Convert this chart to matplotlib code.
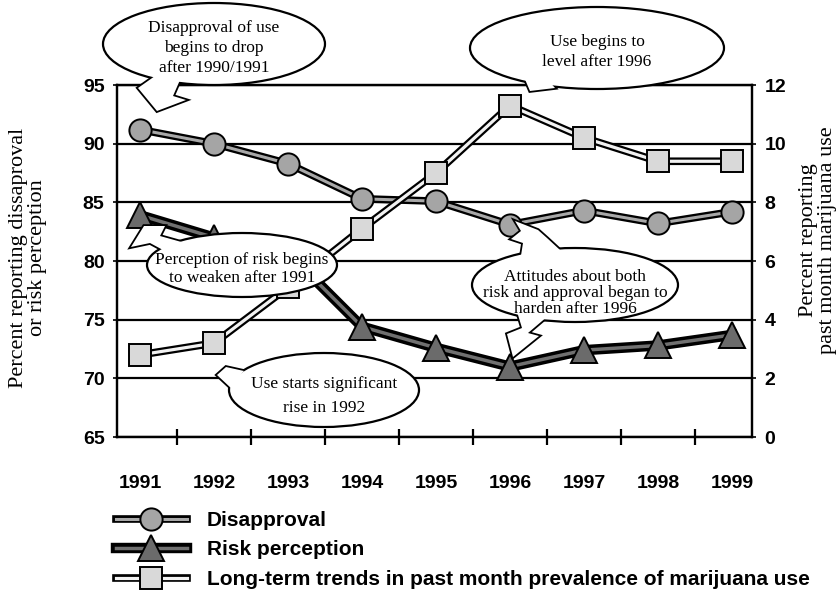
import matplotlib
matplotlib.use("Agg")
from matplotlib import pyplot as plt
from matplotlib.patches import Ellipse, Polygon
from matplotlib.transforms import Affine2D
from matplotlib.font_manager import FontProperties
import matplotlib.patheffects as pe
import numpy as np

years = ["1991", "1992", "1993", "1994", "1995", "1996", "1997", "1998", "1999"]
disapproval = [91.2, 90.0, 88.3, 85.3, 85.1, 83.1, 84.3, 83.2, 84.2]
risk = [83.9, 82.0, 80.7, 74.4, 72.6, 71.0, 72.4, 72.8, 73.7]
use = [2.8, 3.2, 5.1, 7.1, 9.0, 11.3, 10.2, 9.4, 9.4]
labels = ["Disapproval", "Risk perception",
          "Long-term trends in past month prevalence of marijuana use"]

plt.rcParams["font.family"] = ["Liberation Sans", "DejaVu Sans"]
plt.rcParams["font.weight"] = "bold"
SERIF = ["Liberation Serif", "DejaVu Serif"]

W, H = 838, 595
fig = plt.figure(figsize=(W / 100, H / 100), dpi=100)
# pixel coords, origin top-left
pix = Affine2D().scale(1 / W, -1 / H).translate(0, 1) + fig.transFigure

ax = fig.add_axes([117 / W, 1 - 437 / H, 635 / W, 352 / H])
ax2 = ax.twinx()
x = np.arange(len(years))

# lines (double stroke look) and markers
l1, = ax.plot(x, disapproval, color="#a8a8a8", lw=2.2, zorder=3,
              path_effects=[pe.Stroke(linewidth=5.5, foreground="black"), pe.Normal()])
m1, = ax.plot(x, disapproval, ls="none", marker="o", ms=16, mfc="#a5a5a5",
              mec="black", mew=1.4, zorder=4)
l2, = ax.plot(x, risk, color="#707070", lw=2.5, zorder=3,
              path_effects=[pe.Stroke(linewidth=7.5, foreground="black"), pe.Normal()])
m2, = ax.plot(x, risk, ls="none", marker="^", ms=19, mfc="#6b6b6b",
              mec="black", mew=1.4, zorder=4)
l3, = ax2.plot(x, use, color="#f2f2f2", lw=2.3, zorder=3,
               path_effects=[pe.Stroke(linewidth=5.5, foreground="black"), pe.Normal()])
m3, = ax2.plot(x, use, ls="none", marker="s", ms=16, mfc="#d9d9d9",
               mec="black", mew=1.4, zorder=4)

ax.set_xlim(-0.31, 8.27)
ax.set_ylim(65, 95)
ax2.set_ylim(0, 12)
ax.set_yticks(np.arange(65, 96, 5))
ax2.set_yticks(np.arange(0, 13, 2))
ax.set_xticks(x)
ax.set_xticklabels(years)
ax.set_xticks(x[:-1] + 0.5, minor=True)
ax.yaxis.grid(True, color="black", lw=1.6)
ax.set_axisbelow(True)

ax.tick_params(axis="x", which="major", length=0, pad=27, labelsize=14)
ax.tick_params(axis="x", which="minor", direction="inout", length=12, width=1.6)
ax.tick_params(axis="y", length=3, width=1.2, pad=6, labelsize=14)
ax2.tick_params(axis="y", length=3, width=1.2, pad=6, labelsize=14)
for a in (ax, ax2):
    for s in a.spines.values():
        s.set_linewidth(1.6)

fig.text(28 / W, 1 - 258 / H, "Percent reporting dissaproval\nor risk perception",
         rotation=90, ha="center", va="center", family=SERIF, weight="normal",
         size=16, linespacing=0.95)
fig.text(818 / W, 1 - 240 / H, "Percent reporting\npast month marijuana use",
         rotation=90, ha="center", va="center", family=SERIF, weight="normal",
         size=16, linespacing=0.95)

fig.legend([(l1, m1), (l2, m2), (l3, m3)], labels, loc="upper left",
           bbox_to_anchor=(116 / W, 1 - 511 / H), frameon=False, borderpad=0,
           borderaxespad=0, handlelength=3.4, handletextpad=0.95, labelspacing=0.5,
           prop=FontProperties(family="Liberation Sans", weight="bold", size=15))


def callout(cx, cy, w, h, text, tails, ls, ty=None):
    for pts in tails:
        fig.add_artist(Polygon(pts, closed=True, fc="white", ec="black", lw=2.6,
                               transform=pix, zorder=10))
    fig.add_artist(Ellipse((cx, cy), w, h, fc="white", ec="black", lw=1.6,
                           transform=pix, zorder=11))
    for pts in tails:
        fig.add_artist(Polygon(pts, closed=True, fc="white", ec="none", lw=0,
                               transform=pix, zorder=12))
    fig.text(cx, cy if ty is None else ty, text, transform=pix, ha="center",
             va="center", family=SERIF, weight="normal", size=12.5,
             linespacing=ls, zorder=13)


callout(214, 44, 222, 82, "Disapproval of use\nbegins to drop\nafter 1990/1991",
        [[(155, 76), (138, 88), (157, 111), (186, 100), (173, 96), (180, 80)]],
        1.35, ty=48)
callout(597, 48, 254, 82, "Use begins to\nlevel after 1996",
        [[(537, 58), (542, 64), (521, 70), (530, 91), (555, 88), (548, 80),
          (556, 74), (575, 82)]],
        1.35, ty=52)
callout(242, 265, 190, 64, "Perception of risk begins\nto weaken after 1991",
        [[(163, 250), (150, 243), (131, 247), (144, 226), (165, 226),
          (160, 236), (185, 243)]],
        1.2, ty=269)
callout(575, 285, 206, 74,
        "Attitudes about both\nrisk and approval began to\nharden after 1996",
        [[(520, 262), (523, 243), (511, 239), (521, 231), (515, 221),
          (538, 230), (547, 238), (560, 250)],
         [(515, 305), (522, 328), (507, 334), (513, 357), (539, 336),
          (528, 333), (548, 316)]],
        1.0, ty=293)
callout(324, 390, 190, 74, "Use starts significant\nrise in 1992",
        [[(245, 385), (235, 380), (244, 371), (226, 367), (217, 375),
          (232, 389), (242, 395)]],
        1.6, ty=396)

plt.savefig("out.png", dpi=100)
